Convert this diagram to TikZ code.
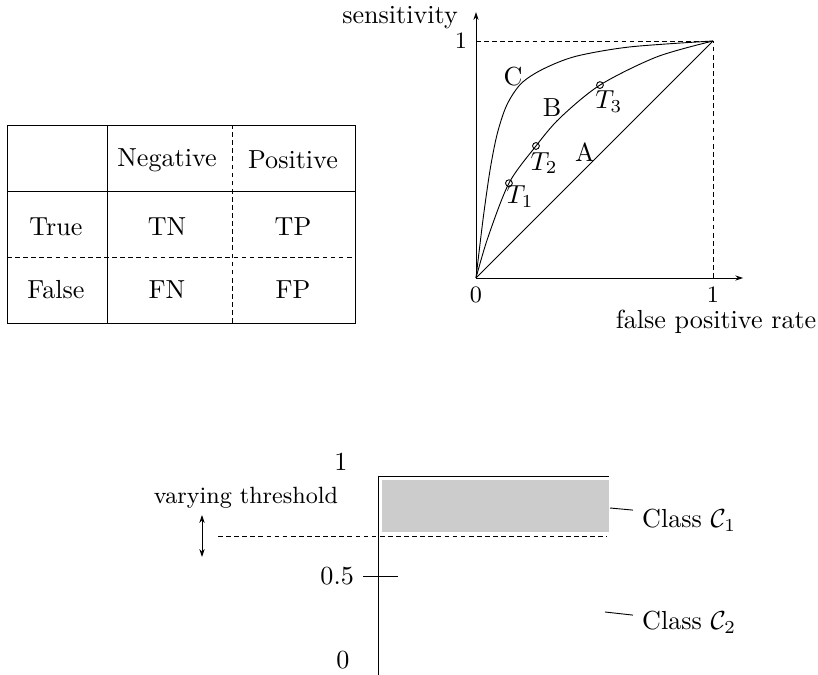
\documentclass[tikz,border=0pt]{standalone}
\usepackage{amsmath}
\usetikzlibrary{arrows.meta}
\begin{document}
\begin{tikzpicture}[x=0.3831pt,y=0.3831pt,line width=0.35pt,
    >={Stealth[length=3pt,width=2pt]},
    dashline/.style={dash pattern=on 1.8pt off 1.3pt,line width=0.3pt},
    ticklab/.style={font=\small},
    tpoint/.style={circle,draw,inner sep=0pt,minimum size=2.6pt}]
    \useasboundingbox (0,0) rectangle (818,675);

    \draw (7,352) rectangle (355,550);
    \draw (107,352) -- (107,550);
    \draw (7,484) -- (355,484);
    \draw[dashline] (232,352) -- (232,550);
    \draw[dashline] (7,418) -- (355,418);
    \node (neg) at (167,515) {Negative};
    \node (pos) at (293,515) {Positive};
    \node (true) at (56,448) {True};
    \node (tn) at (167,448) {TN};
    \node (tp) at (293,448) {TP};
    \node (false) at (56,385) {False};
    \node (fn) at (167,385) {FN};
    \node (fp) at (293,385) {FP};

    \begin{scope}[shift={(476,397)},x=90.8pt,y=90.8pt]
        \draw[->] (0,0) -- (1.127,0);
        \draw[->] (0,0) -- (0,1.122);
        \draw[dashline] (0,1) -- (1,1) -- (1,0);
        \node[anchor=east] (sens) at (-0.038,1.097) {sensitivity};
        \node[ticklab,left] (yone) at (0,1) {1};
        \node[ticklab,below] (xzero) at (0,0) {0};
        \node[ticklab,below] (xone) at (1,0) {1};
        \node (fpr) at (1.013,-0.186) {false positive rate};
        \draw (0,0) -- (1,1);
        \draw plot[smooth] coordinates {(0,0) (0.05,0.17) (0.139,0.40) (0.253,0.557) (0.354,0.675) (0.523,0.814) (0.763,0.933) (1,1)};
        \draw plot[smooth] coordinates {(0,0) (0.03,0.25) (0.06,0.46) (0.09,0.61) (0.13,0.73) (0.19,0.82) (0.28,0.88) (0.42,0.935) (0.65,0.975) (1,1)};
        \node[tpoint] (t1) at (0.139,0.40) {};
        \node[tpoint] (t2) at (0.253,0.557) {};
        \node[tpoint] (t3) at (0.523,0.814) {};
        \node (t1lab) at (0.186,0.342) {$T_1$};
        \node (t2lab) at (0.287,0.485) {$T_2$};
        \node (t3lab) at (0.561,0.743) {$T_3$};
        \node (alab) at (0.46,0.532) {A};
        \node (blab) at (0.321,0.717) {B};
        \node (clab) at (0.156,0.848) {C};
    \end{scope}

    \fill[gray!40] (382,143) rectangle (609,195);
    \draw (378,0) -- (378,199) -- (609,199);
    \draw[dashline] (218,139) -- (607,139);
    \draw (363,99) -- (398,99);
    \node[anchor=east] (half) at (363,99) {0.5};
    \node (one) at (341,213) {1};
    \node (zero) at (343,15) {0};
    \draw[<->] (202,118) -- (202,160);
    \node[font=\small] (vary) at (246,177) {varying threshold};
    \node[anchor=west] (classone) at (633,155) {Class $\mathcal{C}_1$};
    \node[anchor=west] (classtwo) at (633,53) {Class $\mathcal{C}_2$};
    \coordinate (leadone) at (610,167);
    \coordinate (leadtwo) at (605,63);
    \draw (leadone) -- (classone.170);
    \draw (leadtwo) -- (classtwo.173);
\end{tikzpicture}
\end{document}
